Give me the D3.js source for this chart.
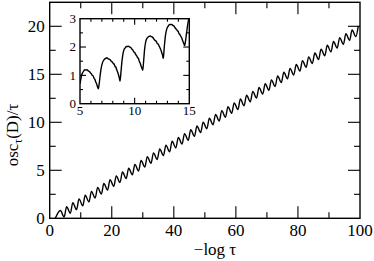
<!DOCTYPE html>
<html>
<head>
<meta charset="utf-8">
<script src="https://cdn.jsdelivr.net/npm/d3@7"></script>
<style>
  body { margin: 0; background: #fff; }
  svg text { font-family: "Liberation Serif", "DejaVu Serif", serif; fill: #000; }
</style>
</head>
<body>
<div id="wrapper"></div>
<script>
// main curve: alternating troughs and peaks [x, y]
const mainTroughs = [
  [1.8, 0.0], [4.65, 0.13], [6.65, 0.53], [8.65, 0.9], [10.65, 1.3], [12.65, 1.7],
  [14.65, 2.1], [16.65, 2.53], [18.65, 2.93], [20.65, 3.33], [22.65, 3.73],
  [24.65, 4.13], [26.65, 4.53], [28.65, 4.93], [30.65, 5.33], [32.65, 5.73],
  [34.65, 6.13], [36.65, 6.53], [38.65, 6.93], [40.65, 7.33], [42.65, 7.73],
  [44.65, 8.13], [46.65, 8.53], [48.65, 8.93], [50.65, 9.33], [52.65, 9.73],
  [54.65, 10.13], [56.65, 10.53], [58.65, 10.93], [60.65, 11.33], [62.65, 11.73],
  [64.65, 12.13], [66.65, 12.53], [68.65, 12.93], [70.65, 13.33], [72.65, 13.73],
  [74.65, 14.13], [76.65, 14.53], [78.65, 14.93], [80.65, 15.33], [82.65, 15.73],
  [84.65, 16.13], [86.65, 16.53], [88.65, 16.93], [90.65, 17.33], [92.65, 17.73],
  [94.65, 18.13], [96.65, 18.53], [98.65, 18.93]
];
const mainPeaks = [
  [3.45, 0.82], [5.45, 1.2], [7.45, 1.62], [9.45, 2.02], [11.45, 2.4], [13.45, 2.8],
  [15.45, 3.22], [17.45, 3.62], [19.45, 4.02], [21.45, 4.42], [23.45, 4.82],
  [25.45, 5.22], [27.45, 5.62], [29.45, 6.02], [31.45, 6.42], [33.45, 6.82],
  [35.45, 7.22], [37.45, 7.62], [39.45, 8.02], [41.45, 8.42], [43.45, 8.82],
  [45.45, 9.22], [47.45, 9.62], [49.45, 10.02], [51.45, 10.42], [53.45, 10.82],
  [55.45, 11.22], [57.45, 11.62], [59.45, 12.02], [61.45, 12.42], [63.45, 12.82],
  [65.45, 13.22], [67.45, 13.62], [69.45, 14.02], [71.45, 14.42], [73.45, 14.82],
  [75.45, 15.22], [77.45, 15.62], [79.45, 16.02], [81.45, 16.42], [83.45, 16.82],
  [85.45, 17.22], [87.45, 17.62], [89.45, 18.02], [91.45, 18.42], [93.45, 18.82],
  [95.45, 19.22], [97.45, 19.62], [99.45, 20.05]
];
// inset curve (zoom on 5..15), read with its small wiggles
const insetData = [
  [5.0, 0.7], [5.08, 0.88], [5.16, 1.02], [5.25, 1.1], [5.35, 1.16], [5.45, 1.2],
  [5.55, 1.19], [5.65, 1.2], [5.75, 1.16], [5.85, 1.14], [5.95, 1.09], [6.05, 1.05],
  [6.12, 1.0], [6.2, 0.98], [6.28, 0.9], [6.36, 0.86], [6.44, 0.77], [6.52, 0.7],
  [6.6, 0.6], [6.68, 0.53], [6.76, 0.72], [6.86, 1.05], [6.96, 1.3], [7.06, 1.45],
  [7.16, 1.53], [7.26, 1.58], [7.36, 1.6], [7.46, 1.62], [7.56, 1.59], [7.66, 1.57],
  [7.76, 1.55], [7.86, 1.5], [7.96, 1.47], [8.04, 1.42], [8.12, 1.4], [8.2, 1.32],
  [8.28, 1.29], [8.36, 1.2], [8.44, 1.12], [8.52, 1.02], [8.6, 0.9], [8.66, 0.8],
  [8.74, 1.08], [8.84, 1.5], [8.94, 1.78], [9.04, 1.92], [9.14, 1.97], [9.24, 2.02],
  [9.34, 2.02], [9.44, 2.03], [9.54, 2.0], [9.64, 1.98], [9.74, 1.93], [9.84, 1.89],
  [9.94, 1.82], [10.02, 1.8], [10.1, 1.73], [10.18, 1.7], [10.26, 1.63], [10.34, 1.6],
  [10.42, 1.5], [10.5, 1.44], [10.58, 1.34], [10.66, 1.26], [10.74, 1.18], [10.82, 1.5],
  [10.92, 1.95], [11.02, 2.2], [11.12, 2.3], [11.22, 2.35], [11.32, 2.38], [11.42, 2.39],
  [11.52, 2.37], [11.62, 2.35], [11.72, 2.31], [11.82, 2.25], [11.92, 2.22], [12.0, 2.18],
  [12.08, 2.12], [12.16, 2.1], [12.24, 2.03], [12.32, 1.97], [12.4, 1.9], [12.48, 1.8],
  [12.56, 1.7], [12.62, 1.6], [12.7, 1.95], [12.8, 2.35], [12.9, 2.58], [13.0, 2.7],
  [13.1, 2.75], [13.2, 2.8], [13.3, 2.79], [13.4, 2.8], [13.5, 2.76], [13.6, 2.74],
  [13.7, 2.68], [13.8, 2.63], [13.9, 2.58], [13.98, 2.55], [14.06, 2.47], [14.14, 2.44],
  [14.22, 2.38], [14.3, 2.33], [14.38, 2.24], [14.46, 2.16], [14.52, 2.1], [14.57, 2.05],
  [14.65, 2.2], [14.75, 2.5], [14.85, 2.78], [14.95, 3.0], [15.05, 3.2]
];

const mainXTicks = [0, 20, 40, 60, 80, 100];
const mainXMinor = [10, 30, 50, 70, 90];
const mainYTicks = [0, 5, 10, 15, 20];
const mainYMinor = [2.5, 7.5, 12.5, 17.5, 22.5];
const insetXTicks = [5, 10, 15];
const insetXMinor = [6, 7, 8, 9, 11, 12, 13, 14];
const insetYTicks = [0, 1, 2, 3];
const insetYMinor = [0.5, 1.5, 2.5];

const xAccessor = d => d[0];
const yAccessor = d => d[1];

const width = 374, height = 261;
const svg = d3.select("#wrapper").append("svg")
  .attr("width", width).attr("height", height)
  .attr("font-family", "Liberation Serif, DejaVu Serif, serif");

// draws a framed panel with inward ticks on all four sides
function panel(box, xDom, yDom, opt) {
  const xScale = d3.scaleLinear().domain(xDom).range([box.left, box.right]);
  const yScale = d3.scaleLinear().domain(yDom).range([box.bottom, box.top]);
  const g = svg.append("g");

  const tickLine = (vals, len, side) => {
    vals.forEach(v => {
      if (side === "x") {
        const x = xScale(v);
        g.append("line").attr("x1", x).attr("x2", x).attr("y1", box.bottom).attr("y2", box.bottom - len);
        g.append("line").attr("x1", x).attr("x2", x).attr("y1", box.top).attr("y2", box.top + len);
      } else {
        const y = yScale(v);
        g.append("line").attr("y1", y).attr("y2", y).attr("x1", box.left).attr("x2", box.left + len);
        g.append("line").attr("y1", y).attr("y2", y).attr("x1", box.right).attr("x2", box.right - len);
      }
    });
  };
  tickLine(opt.xTicks.filter(v => v > xDom[0] && v < xDom[1]), opt.major, "x");
  tickLine(opt.xMinor, opt.minor, "x");
  tickLine(opt.yTicks.filter(v => v > yDom[0] && v < yDom[1]), opt.major, "y");
  tickLine(opt.yMinor.filter(v => v < yDom[1]), opt.minor, "y");
  g.selectAll("line").attr("stroke", "#000").attr("stroke-width", 1.1);

  g.selectAll(".xl").data(opt.xTicks).join("text")
    .attr("x", d => xScale(d)).attr("y", box.bottom + opt.xLabOff)
    .attr("text-anchor", "middle").style("font-size", opt.fs + "px")
    .text(d => d);
  g.selectAll(".yl").data(opt.yTicks).join("text")
    .attr("x", box.left - opt.yLabOff).attr("y", d => yScale(d))
    .attr("dy", "0.34em")
    .attr("text-anchor", "end").style("font-size", opt.fs + "px")
    .text(d => d);

  const clipId = "clip" + opt.id;
  svg.append("clipPath").attr("id", clipId).append("rect")
    .attr("x", box.left).attr("y", box.top)
    .attr("width", box.right - box.left).attr("height", box.bottom - box.top);

  const line = d3.line()
    .x(d => xScale(xAccessor(d)))
    .y(d => yScale(yAccessor(d)))
    .curve(d3.curveMonotoneX);
  svg.append("path")
    .attr("d", line(opt.data))
    .attr("fill", "none").attr("stroke", "#000").attr("stroke-width", opt.lw)
    .attr("stroke-linejoin", "round")
    .attr("clip-path", `url(#${clipId})`);

  svg.append("rect")
    .attr("x", box.left).attr("y", box.top)
    .attr("width", box.right - box.left).attr("height", box.bottom - box.top)
    .attr("fill", "none")
    .attr("stroke", "#000").attr("stroke-width", 1.4);
  return { xScale, yScale };
}

const mainData = mainTroughs.concat(mainPeaks).sort((a, b) => a[0] - b[0]);

panel({ left: 49.7, right: 360, top: 2.3, bottom: 218.3 }, [0, 100], [0, 22.5], {
  id: "main", data: mainData, lw: 1.4,
  xTicks: mainXTicks, xMinor: mainXMinor, yTicks: mainYTicks, yMinor: mainYMinor,
  major: 12, minor: 6, fs: 17, xLabOff: 18, yLabOff: 5
});

panel({ left: 80, right: 189.3, top: 18.7, bottom: 103.7 }, [5, 15], [0, 3], {
  id: "inset", data: insetData, lw: 1.4,
  xTicks: insetXTicks, xMinor: insetXMinor, yTicks: insetYTicks, yMinor: insetYMinor,
  major: 6, minor: 3, fs: 13, xLabOff: 11, yLabOff: 4
});

// axis titles
svg.append("text")
  .attr("x", 215).attr("y", 255)
  .attr("text-anchor", "middle").style("font-size", "17px")
  .text("\u2212log \u03c4");

const yTitle = svg.append("text")
  .attr("transform", "translate(18,135) rotate(-90)")
  .attr("text-anchor", "middle").style("font-size", "17px");
yTitle.append("tspan").text("osc");
yTitle.append("tspan").attr("dy", 4).style("font-size", "12px").text("\u03c4");
yTitle.append("tspan").attr("dy", -4).text("(D)/\u03c4");
</script>
</body>
</html>
